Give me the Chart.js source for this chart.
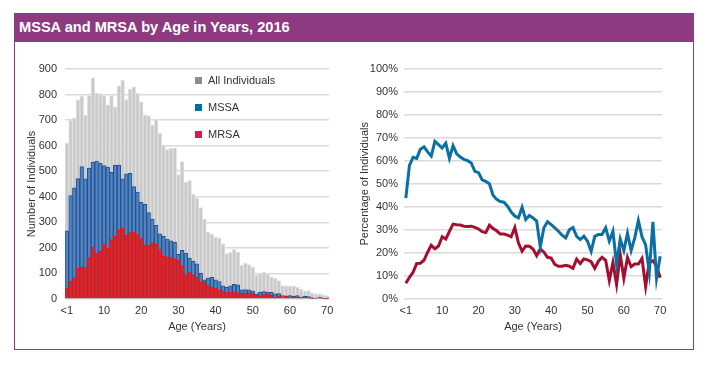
<!DOCTYPE html>
<html><head><meta charset="utf-8">
<script src="https://cdn.jsdelivr.net/npm/chart.js@4.4.1/dist/chart.umd.min.js"></script>
<style>
html,body{margin:0;padding:0;background:#fff;}
body{width:708px;height:366px;position:relative;overflow:hidden;font-family:"Liberation Sans",Arial,sans-serif;}
#card{position:absolute;left:14px;top:13px;width:680px;height:337px;border:1px solid #8e3a80;box-sizing:border-box;}
#hdr{position:absolute;left:14px;top:13px;width:680px;height:29px;background:#8e3a80;color:#fff;font-weight:bold;font-size:14.6px;line-height:29px;padding-left:5px;box-sizing:border-box;white-space:nowrap;}
#c1{position:absolute;left:15px;top:48px;}
#c2{position:absolute;left:355px;top:48px;}
.sq{position:absolute;left:195px;width:7px;height:7px;}
.lt{position:absolute;left:208px;font-size:11px;line-height:13px;color:#333;white-space:nowrap;}
</style>
</head><body>
<div id="card"></div>
<div id="hdr">MSSA and MRSA by Age in Years, 2016</div>
<canvas id="c1" width="330" height="297"></canvas>
<canvas id="c2" width="330" height="297"></canvas>
<div class="sq" style="top:77px;background:#8c8c8c"></div><div class="lt" style="top:74px">All Individuals</div>
<div class="sq" style="top:104px;background:#006ea4"></div><div class="lt" style="top:101px">MSSA</div>
<div class="sq" style="top:131px;background:#e0154f"></div><div class="lt" style="top:128px">MRSA</div>
<script>
// Age categories: <1, 1 ... 70
const ageLabels = ['<1'];
for (let a = 1; a <= 70; a++) ageLabels.push(String(a));

// Number of individuals by age
const allIndividuals = [610,700,708,778,793,720,795,865,806,803,795,760,795,752,834,856,780,820,830,805,
  772,721,718,682,703,648,600,585,590,592,487,538,458,463,410,395,358,313,262,254,
  241,237,216,178,183,193,184,132,141,135,125,94,99,104,98,86,81,72,53,52,
  50,52,46,39,31,33,24,20,20,16,13];
const mssaCounts = [267,405,435,471,518,470,512,535,540,532,522,516,496,524,524,470,490,492,440,418,
  378,370,338,312,288,255,245,234,228,222,175,190,180,160,148,138,100,75,82,85,
  75,68,52,46,52,57,55,36,37,36,31,20,27,29,27,26,20,21,13,12,
  13,10,13,8,10,9,5,2,7,1,2];
const mrsaCounts = [42,70,82,120,125,123,162,203,180,188,216,198,233,245,269,278,250,259,263,252,
  236,212,210,220,215,193,168,165,162,157,152,130,96,106,95,85,67,68,53,46,
  43,35,31,25,27,27,24,23,22,24,21,15,13,17,18,14,7,11,3,10,
  5,9,6,6,5,6,1,3,3,2,1];

// Percentage of individuals by age
const mssaPercent = [43.8,58,61.5,61,65,66,63.8,62,68.4,67,65.5,67.6,61,66.5,63,61.6,60.6,60,59,55.4,
  54.8,51.7,51,50,45,43.2,42.3,42,40.3,37.7,36,35.2,39.8,34.5,36.2,35.2,33.8,22.6,30.9,33.5,
  32.3,30.9,29.4,27.7,26.5,30,31,27.2,25.8,27.2,25.1,20.7,27.2,28,28,30.9,25.1,29.4,15,26,
  21,28.5,21,26.5,34,27,23.5,11.5,33.5,9,18.5];
const mrsaPercent = [6.8,9.4,11.6,15.4,15.5,16.8,20.3,23.3,21.8,23,27,26,29.3,32.5,32.2,32.1,31.6,31.5,31.6,31.1,
  30.4,29.2,28.8,32,30.6,29.6,28.2,28.2,27.7,27,31,24.3,20.7,23,22.9,21.7,18.8,21.7,20.3,18.1,
  17.8,15,14.2,14.2,14.6,14.2,13.3,17.3,15.4,17.4,17,16.2,13.3,16.4,18.1,16.8,8,15.8,6.3,19.3,
  9,18,14,15.2,15.2,17.6,5.5,16,16.6,14.2,9.2];

const yCountTicks = [0,100,200,300,400,500,600,700,800,900];
const yPercentTicks = [0,10,20,30,40,50,60,70,80,90,100];

const TXT = '#333333';
const GRID = '#dadada';
const FONT = 'Liberation Sans, Arial, sans-serif';
function zeroPad(s){ s.paddingLeft=0; s.paddingRight=0; s.paddingTop=0; s.paddingBottom=0; }
const xTickCb = function(val, idx){ return idx % 10 === 0 ? this.getLabelForValue(val) : ''; };

Chart.defaults.font.family = FONT;

new Chart(document.getElementById('c1'), {
  type: 'bar',
  data: {
    labels: ageLabels,
    datasets: [
      {label:'MRSA', data: mrsaCounts, backgroundColor:'#b9343f', borderColor:'#ff0a0a', borderWidth:1, grouped:false, categoryPercentage:1, barPercentage:1},
      {label:'MSSA', data: mssaCounts, backgroundColor:'#5084c2', borderColor:'#24508f', borderWidth:1, grouped:false, categoryPercentage:1, barPercentage:1},
      {label:'All Individuals', data: allIndividuals, backgroundColor:'#c9c9c9', borderColor:'#e0e0e0', borderWidth:1, grouped:false, categoryPercentage:1, barPercentage:1}
    ]
  },
  options: {
    responsive:false, animation:false,
    layout:{padding:{top:21,right:16,left:0,bottom:0}},
    plugins:{legend:{display:false}, tooltip:{enabled:false}},
    scales:{
      x:{
        grid:{display:false, drawTicks:false}, border:{display:false},
        ticks:{autoSkip:false, maxRotation:0, padding:5, color:TXT, font:{size:11}, callback:xTickCb},
        title:{display:true, text:'Age (Years)', color:TXT, font:{size:11}, padding:{top:0,bottom:11}},
        afterFit:(s)=>{ s.height = 46; zeroPad(s); }
      },
      y:{
        min:0, max:900,
        afterBuildTicks:(s)=>{ s.ticks = yCountTicks.map(v=>({value:v})); },
        grid:{color:GRID, lineWidth:1.5, drawTicks:false}, border:{display:false},
        ticks:{padding:8, color:TXT, font:{size:11}},
        title:{display:true, text:'Number of Individuals', color:TXT, font:{size:11}, padding:{top:10,bottom:0}},
        afterFit:(s)=>{ s.width = 50; zeroPad(s); }
      }
    }
  }
});

new Chart(document.getElementById('c2'), {
  type: 'line',
  data: {
    labels: ageLabels,
    datasets: [
      {label:'MSSA', data: mssaPercent, borderColor:'#0a6fa2', borderWidth:3, pointRadius:0, tension:0, fill:false},
      {label:'MRSA', data: mrsaPercent, borderColor:'#a50e2e', borderWidth:3, pointRadius:0, tension:0, fill:false}
    ]
  },
  options: {
    responsive:false, animation:false,
    layout:{padding:{top:20.5,right:23,left:0,bottom:0}},
    plugins:{legend:{display:false}, tooltip:{enabled:false}},
    scales:{
      x:{
        offset:true,
        grid:{display:false, drawTicks:false}, border:{display:false},
        ticks:{autoSkip:false, maxRotation:0, padding:5, color:TXT, font:{size:11}, callback:xTickCb},
        title:{display:true, text:'Age (Years)', color:TXT, font:{size:11}, padding:{top:0,bottom:11}},
        afterFit:(s)=>{ s.height = 46; zeroPad(s); }
      },
      y:{
        min:0, max:100,
        afterBuildTicks:(s)=>{ s.ticks = yPercentTicks.map(v=>({value:v})); },
        grid:{color:GRID, lineWidth:1.5, drawTicks:false}, border:{display:false},
        ticks:{padding:6, color:TXT, font:{size:11}, callback:(v)=>v+'%'},
        title:{display:true, text:'Percentage of Individuals', color:TXT, font:{size:11}, padding:{top:3,bottom:0}},
        afterFit:(s)=>{ s.width = 49; zeroPad(s); }
      }
    }
  }
});
</script>
</body></html>
